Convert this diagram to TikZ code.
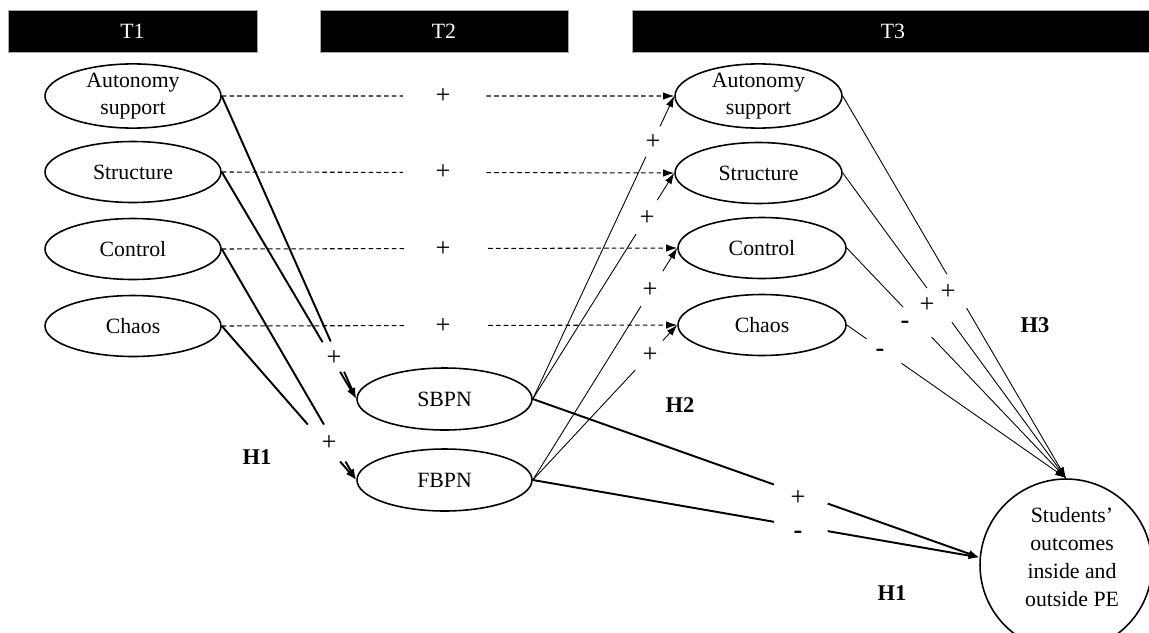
\documentclass[tikz,border=0pt]{standalone}
\usepackage{fontspec}
\setmainfont{Liberation Serif}
\usetikzlibrary{shapes.geometric,arrows.meta,calc}
\newcommand\gapline[5]{%
  \draw[#1] (#2) -- ($(#2)!#4!(#3)$);
  \draw[#1,tipend] ($(#2)!#5!(#3)$) -- (#3);}
\begin{document}
\begin{tikzpicture}[x=0.02cm,y=-0.02cm,
  every node/.style={font=\fontsize{12.4}{15}\selectfont},
  bar/.style={fill=black,text=white,minimum height=0.84cm,inner sep=0pt,draw=gray!70,line width=0.3pt},
  ell/.style={ellipse,draw,line width=0.9pt,minimum height=1.22cm,inner sep=0pt,align=center},
  thickline/.style={line width=1.1pt},
  thinline/.style={line width=0.5pt},
  dashline/.style={line width=0.6pt,dash pattern=on 2.6pt off 1.8pt},
  tipend/.style={-{Latex[length=2.2mm,width=1.5mm]}},
  sign/.style={font=\fontsize{15}{15}\selectfont,inner sep=0pt},
  minus/.style={font=\bfseries\fontsize{15}{15}\selectfont,inner sep=0pt},
  hyp/.style={font=\bfseries\fontsize{12.8}{14}\selectfont,inner sep=0pt}
]
\useasboundingbox (0,0) rectangle (1149,632);

% header bars
\node[bar,minimum width=4.98cm] (t1) at (132.5,31) {T1};
\node[bar,minimum width=4.96cm] (t2) at (444,31) {T2};
\node[bar,minimum width=10.44cm] (t3) at (893,31) {T3};

% T1 constructs
\node[ell,minimum width=3.52cm] (la) at (133,96) {Autonomy\\support};
\node[ell,minimum width=3.52cm] (ls) at (133,172) {Structure};
\node[ell,minimum width=3.52cm] (lc) at (133,249) {Control};
\node[ell,minimum width=3.52cm] (lh) at (133,326) {Chaos};

% T2
\node[ell,minimum width=3.5cm,minimum height=1.24cm] (sb) at (444.5,399) {SBPN};
\node[ell,minimum width=3.5cm,minimum height=1.24cm] (fb) at (444.5,480) {FBPN};

% T3 constructs
\node[ell,minimum width=3.34cm] (ra) at (758.5,96) {Autonomy\\support};
\node[ell,minimum width=3.34cm] (rs) at (758.5,173) {Structure};
\node[ell,minimum width=3.36cm] (rc) at (762,248) {Control};
\node[ell,minimum width=3.36cm] (rh) at (762,325) {Chaos};

% outcome
\node[circle,draw,line width=0.9pt,minimum size=3.44cm,inner sep=0pt] (out) at (1066,565) {};
\node[align=center,inner sep=0pt,font=\fontsize{12.4}{16}\selectfont] (outtext) at (1072,557)
      {Students’\\outcomes\\inside and\\outside PE};

% stability paths (dashed)
\gapline{dashline}{la.east}{ra.west}{0.40}{0.585}
\gapline{dashline}{ls.east}{rs.west}{0.40}{0.585}
\gapline{dashline}{lc.east}{rc.west}{0.40}{0.585}
\gapline{dashline}{lh.east}{rh.west}{0.40}{0.585}
\node[sign] (d1) at (443,96) {+};
\node[sign] (d2) at (443,172) {+};
\node[sign] (d3) at (443,249) {+};
\node[sign] (d4) at (443,326) {+};

% T1 -> T2
\gapline{thickline}{la.east}{sb.west}{0.81}{0.91}
\gapline{thickline}{ls.east}{sb.west}{0.75}{0.88}
\gapline{thickline}{lc.east}{fb.west}{0.76}{0.92}
\gapline{thickline}{lh.east}{fb.west}{0.64}{0.88}
\node[sign] (p1) at (334,358) {+};
\node[sign] (p2) at (329,443) {+};

% T2 -> T3
\gapline{thinline}{sb.east}{ra.west}{0.80}{0.90}
\gapline{thinline}{sb.east}{rs.west}{0.73}{0.88}
\gapline{thinline}{fb.east}{rc.west}{0.75}{0.90}
\gapline{thinline}{fb.east}{rh.west}{0.71}{0.90}
\node[sign] (q1) at (653,142) {+};
\node[sign] (q2) at (647,218) {+};
\node[sign] (q3) at (650,290) {+};
\node[sign] (q4) at (650,355) {+};

% T3 -> outcome
\gapline{thinline}{ra.east}{out.north}{0.466}{0.555}
\gapline{thinline}{rs.east}{out.north}{0.377}{0.489}
\gapline{thinline}{rc.east}{out.north}{0.257}{0.387}
\gapline{thinline}{rh.east}{out.north}{0.09}{0.25}
\node[sign] (r1) at (948,292) {+};
\node[sign] (r2) at (927,305) {+};
\node[minus] (r3) at (905,325) {-};
\node[minus] (r4) at (880,353) {-};

% T2 -> outcome
\gapline{thickline}{sb.east}{out.175}{0.54}{0.66}
\gapline{thickline}{fb.east}{out.175}{0.54}{0.66}
\node[sign] (s1) at (798,498) {+};
\node[minus] (s2) at (798,535) {-};

% hypotheses
\node[hyp] (h1a) at (257,457) {H1};
\node[hyp] (h2) at (680,405) {H2};
\node[hyp] (h3) at (1035,325) {H3};
\node[hyp] (h1b) at (892,593) {H1};
\end{tikzpicture}
\end{document}
